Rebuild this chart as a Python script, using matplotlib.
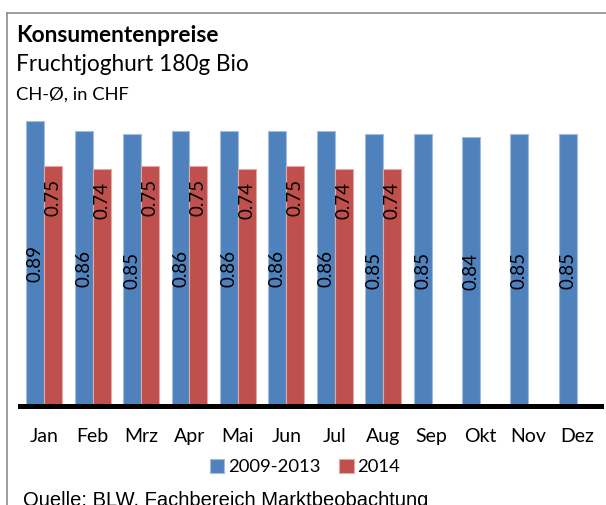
import matplotlib.pyplot as plt
import numpy as np
from matplotlib.lines import Line2D

monate = ["Jan", "Feb", "Mrz", "Apr", "Mai", "Jun", "Jul", "Aug", "Sep", "Okt", "Nov", "Dez"]
preise_0913 = [0.89, 0.86, 0.85, 0.86, 0.86, 0.86, 0.86, 0.85, 0.85, 0.84, 0.85, 0.85]
preise_2014 = [0.75, 0.74, 0.75, 0.75, 0.74, 0.75, 0.74, 0.74]

blau = "#4F81BD"
rot = "#C0504D"

plt.rcParams["font.family"] = ["Lato", "DejaVu Sans"]

fig = plt.figure(figsize=(6.06, 5.05), dpi=100)
W, H = 606, 505

# Diagrammflaeche in Pixeln
ax = fig.add_axes([20 / W, 99 / H, 581 / W, 288 / H])
x = np.arange(len(monate))
w = 0.37

b1 = ax.bar(x - w / 2, preise_0913, w, color=blau, edgecolor="#a3bde0", linewidth=0.8, label="2009-2013")
b2 = ax.bar(x[:len(preise_2014)] + w / 2, preise_2014, w, color=rot, edgecolor="#e3a9a7", linewidth=0.8, label="2014")

# Werte: 2009-2013 mittig, 2014 innen oben
ax.bar_label(b1, fmt="%.2f", label_type="center", rotation=90, fontsize=13.5)
for xi, v in zip(x[:len(preise_2014)] + w / 2, preise_2014):
    ax.annotate(f"{v:.2f}", (xi, v), xytext=(0, -13), textcoords="offset pixels",
                rotation=90, ha="center", va="top", fontsize=13.5)

ax.set_xlim(-0.5, len(monate) - 0.5)
ax.set_ylim(0, 0.9)
ax.axhline(0, color="black", lw=3.6, clip_on=False)
for s in ax.spines.values():
    s.set_visible(False)
ax.set_yticks([])
ax.set_xticks(x)
ax.set_xticklabels(monate, fontsize=14)
ax.tick_params(axis="x", length=0, pad=16)

fig.legend(loc="center", bbox_to_anchor=(305 / W, 1 - 467 / H), ncol=2, frameon=False,
           fontsize=13.3, handlelength=0.8, handleheight=0.8, handletextpad=0.2,
           columnspacing=1.0)

# Titel
fig.text(16 / W, 1 - 42 / H, "Konsumentenpreise", fontsize=16.4, fontweight="bold", va="baseline")
fig.text(16 / W, 1 - 71 / H, "Fruchtjoghurt 180g Bio", fontsize=16.3, va="baseline")
fig.text(16 / W, 1 - 100 / H, "CH-Ø, in CHF", fontsize=13.2, va="baseline")

fig.text(23 / W, 1 - 491 / H, "Quelle: BLW, Fachbereich Marktbeobachtung",
         family="Liberation Sans", fontsize=14.5, va="top")

# Rahmen
fig.add_artist(Line2D([7 / W, 7 / W], [0, 1 - 13 / H], transform=fig.transFigure, color="#8c8c8c", lw=1.2))
fig.add_artist(Line2D([7 / W, 1], [1 - 13 / H, 1 - 13 / H], transform=fig.transFigure, color="#8c8c8c", lw=1.2))

fig.savefig("out.png", dpi=100)
